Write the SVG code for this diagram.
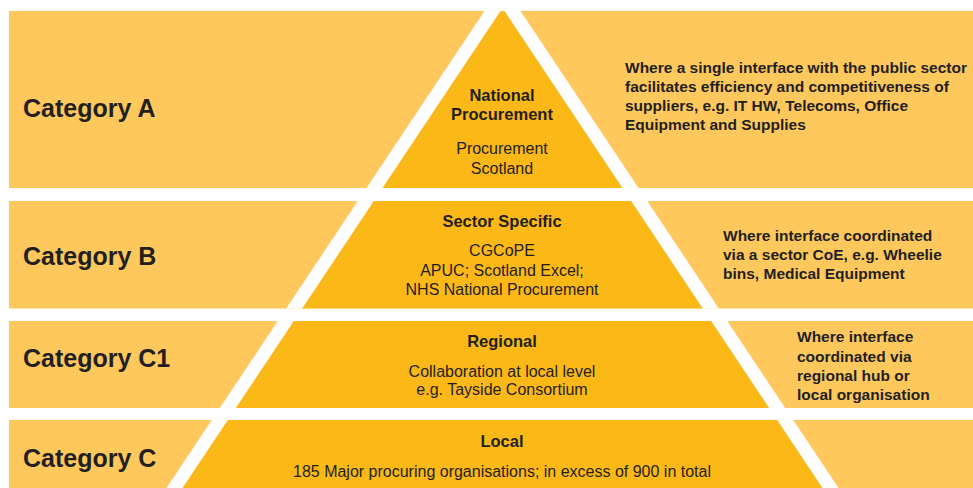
<svg xmlns="http://www.w3.org/2000/svg" width="973" height="488" viewBox="0 0 973 488">
  <style>
    .band { fill: #FEC85D; }
    .gap { fill: #FFFFFF; }
    .core { fill: #FCB816; }
    text { font-family: "Liberation Sans", Arial, Helvetica, sans-serif; fill: #231F20; }
    .cat { font-size: 25px; font-weight: bold; }
    .title { font-size: 16.5px; font-weight: bold; text-anchor: middle; }
    .body { font-size: 16px; text-anchor: middle; }
    .note { font-size: 15.5px; font-weight: bold; }
  </style>
  <rect width="973" height="488" fill="#FFFFFF"/>

  <!-- Tier A: national -->
  <g id="tier-a">
    <rect class="band" x="9" y="11" width="964" height="177"/>
    <polygon class="gap" points="484.5,11 520.5,11 638.5,188 366.5,188"/>
    <polygon class="core" points="500.5,11 504.5,11 622.5,188 382.5,188"/>
    <text class="cat" x="23" y="117">Category A</text>
    <text class="title" x="502" y="101">National</text>
    <text class="title" x="502" y="120">Procurement</text>
    <text class="body" x="502" y="154">Procurement</text>
    <text class="body" x="502" y="174">Scotland</text>
    <text class="note" x="625" y="73">Where a single interface with the public sector</text>
    <text class="note" x="625" y="92">facilitates efficiency and competitiveness of</text>
    <text class="note" x="625" y="111">suppliers, e.g. IT HW, Telecoms, Office</text>
    <text class="note" x="625" y="130">Equipment and Supplies</text>
  </g>

  <!-- Tier B: sector specific -->
  <g id="tier-b">
    <rect class="band" x="9" y="201" width="964" height="107.5"/>
    <polygon class="gap" points="357.8,201 647.2,201 718.8,308.5 286.2,308.5"/>
    <polygon class="core" points="373.8,201 631.2,201 702.8,308.5 302.2,308.5"/>
    <text class="cat" x="23" y="265">Category B</text>
    <text class="title" x="502" y="227">Sector Specific</text>
    <text class="body" x="502" y="256">CGCoPE</text>
    <text class="body" x="502" y="276">APUC; Scotland Excel;</text>
    <text class="body" x="502" y="295">NHS National Procurement</text>
    <text class="note" x="723" y="241">Where interface coordinated</text>
    <text class="note" x="723" y="260">via a sector CoE, e.g. Wheelie</text>
    <text class="note" x="723" y="279">bins, Medical Equipment</text>
  </g>

  <!-- Tier C1: regional -->
  <g id="tier-c1">
    <rect class="band" x="9" y="321" width="964" height="87"/>
    <polygon class="gap" points="277.8,321 727.2,321 785.2,408 219.8,408"/>
    <polygon class="core" points="293.8,321 711.2,321 769.2,408 235.8,408"/>
    <text class="cat" x="23" y="367">Category C1</text>
    <text class="title" x="502" y="347">Regional</text>
    <text class="body" x="502" y="377">Collaboration at local level</text>
    <text class="body" x="502" y="395">e.g. Tayside Consortium</text>
    <text class="note" x="797" y="342">Where interface</text>
    <text class="note" x="797" y="361.5">coordinated via</text>
    <text class="note" x="797" y="380.5">regional hub or</text>
    <text class="note" x="797" y="399.5">local organisation</text>
  </g>

  <!-- Tier C: local -->
  <g id="tier-c">
    <rect class="band" x="9" y="420" width="964" height="68"/>
    <polygon class="gap" points="211.8,420 793.2,420 838.5,488 166.5,488"/>
    <polygon class="core" points="227.8,420 777.2,420 822.5,488 182.5,488"/>
    <text class="cat" x="23" y="467">Category C</text>
    <text class="title" x="502" y="447">Local</text>
    <text class="body" x="502" y="477">185 Major procuring organisations; in excess of 900 in total</text>
  </g>
</svg>
